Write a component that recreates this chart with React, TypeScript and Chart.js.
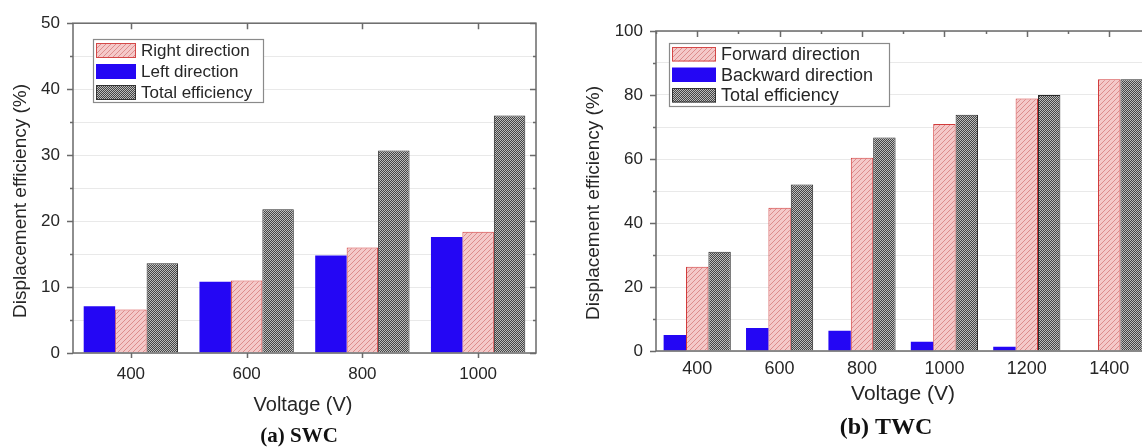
import React, { useEffect, useRef } from "react";
import { Chart, registerables } from "chart.js";

Chart.register(...registerables);

// ---------- Data ----------
const swcVoltages = ["400", "600", "800", "1000"];
const swcLeftDirection = [7.1, 10.8, 14.8, 17.6];
const swcRightDirection = [6.6, 11.0, 16.0, 18.4];
const swcTotalEfficiency = [13.6, 21.8, 30.7, 36.0];
const swcYTicks = [0, 10, 20, 30, 40, 50];

const twcVoltages = ["400", "600", "800", "1000", "1200", "1400"];
const twcBackwardDirection = [5.0, 7.2, 6.3, 2.9, 1.3, 0];
const twcForwardDirection = [26.3, 44.8, 60.4, 70.9, 78.9, 84.9];
const twcTotalEfficiency = [31.0, 52.0, 66.7, 73.8, 80.0, 84.9];
const twcYTicks = [0, 20, 40, 60, 80, 100];

const swcLabels = ["Left direction", "Right direction", "Total efficiency"];
const twcLabels = ["Backward direction", "Forward direction", "Total efficiency"];

const SANS = "'Liberation Sans', Arial, sans-serif";
const SERIF = "'Liberation Serif', 'Times New Roman', serif";
const BLUE = "#2406f4";
const AXIS = "#6a6a6a";
const TEXT = "#262626";

function makeHatch(ctx: CanvasRenderingContext2D) {
  const n = 5;
  const c = document.createElement("canvas");
  c.width = n;
  c.height = n;
  const x = c.getContext("2d")!;
  x.fillStyle = "#f4c9c9";
  x.fillRect(0, 0, n, n);
  x.fillStyle = "#dd8c8c";
  for (let i = 0; i < n; i++) x.fillRect(i, n - 1 - i, 1, 1);
  return ctx.createPattern(c, "repeat")!;
}

function makeDots(ctx: CanvasRenderingContext2D) {
  const c = document.createElement("canvas");
  c.width = 2;
  c.height = 2;
  const x = c.getContext("2d")!;
  x.fillStyle = "#454545";
  x.fillRect(0, 0, 2, 2);
  x.fillStyle = "#bcbcbc";
  x.fillRect(0, 0, 1, 1);
  x.fillRect(1, 1, 1, 1);
  return ctx.createPattern(c, "repeat")!;
}

type Decor = {
  yStep: number;
  yMinor: number;
  yMax: number;
  bottomTicks: boolean;
  topMinor: boolean;
  legend: { x: number; y: number; w: number; h: number; sw: number; rowH: number; font: number; items: { label: string; kind: string }[] };
  yTitle: { x: number; y: number; font: number };
  xTitle: { x: number; y: number; font: number };
  caption: { text: string; x: number; y: number; font: number };
};

function decorPlugin(d: Decor, pats: Record<string, any>) {
  return {
    id: "decor",
    afterDraw(chart: any) {
      const { ctx, chartArea: a, scales } = chart;
      ctx.save();
      // frame
      ctx.strokeStyle = AXIS;
      ctx.lineWidth = 1.5;
      ctx.strokeRect(a.left, a.top, a.right - a.left, a.bottom - a.top);
      // y ticks
      for (let v = 0; v <= d.yMax + 1e-6; v += d.yMinor) {
        const y = Math.round(scales.y.getPixelForValue(v)) + 0.5;
        const major = Math.abs(v / d.yStep - Math.round(v / d.yStep)) < 1e-6;
        const len = major ? 6 : 3;
        ctx.beginPath();
        ctx.moveTo(a.left - len, y);
        ctx.lineTo(a.left, y);
        ctx.moveTo(a.right, y);
        ctx.lineTo(a.right - len, y);
        ctx.stroke();
      }
      // x ticks
      const n = scales.x.ticks.length;
      const xs: number[] = [];
      for (let i = 0; i < n; i++) xs.push(scales.x.getPixelForTick(i));
      xs.forEach((x: number) => {
        const px = Math.round(x) + 0.5;
        ctx.beginPath();
        ctx.moveTo(px, a.top);
        ctx.lineTo(px, a.top + 6);
        if (d.bottomTicks) {
          ctx.moveTo(px, a.bottom);
          ctx.lineTo(px, a.bottom + 5);
        }
        ctx.stroke();
      });
      if (d.topMinor && n > 1) {
        const step = xs[1] - xs[0];
        for (let i = 0; i <= n; i++) {
          const px = Math.round(xs[0] - step / 2 + i * step) + 0.5;
          ctx.beginPath();
          ctx.moveTo(px, a.top);
          ctx.lineTo(px, a.top + 3);
          ctx.stroke();
        }
      }
      // legend
      const L = d.legend;
      ctx.fillStyle = "#ffffff";
      ctx.fillRect(L.x, L.y, L.w, L.h);
      ctx.strokeStyle = "#8a8a8a";
      ctx.lineWidth = 1.2;
      ctx.strokeRect(L.x + 0.5, L.y + 0.5, L.w, L.h);
      L.items.forEach((it, i) => {
        const top = L.y + 4 + i * L.rowH;
        const sh = L.rowH - 6;
        const sx = L.x + 3;
        ctx.fillStyle = pats[it.kind];
        ctx.fillRect(sx, top, L.sw, sh);
        if (it.kind !== "blue") {
          ctx.strokeStyle = it.kind === "hatch" ? "#d44848" : "#333333";
          ctx.lineWidth = 1;
          ctx.strokeRect(sx + 0.5, top + 0.5, L.sw - 1, sh - 1);
        }
        ctx.fillStyle = TEXT;
        ctx.font = `${L.font}px ${SANS}`;
        ctx.textBaseline = "middle";
        ctx.textAlign = "left";
        ctx.fillText(it.label, sx + L.sw + 5, top + sh / 2 + 1);
      });
      // titles
      ctx.fillStyle = TEXT;
      ctx.textAlign = "center";
      ctx.textBaseline = "middle";
      ctx.font = `${d.xTitle.font}px ${SANS}`;
      ctx.fillText("Voltage (V)", d.xTitle.x, d.xTitle.y);
      ctx.save();
      ctx.translate(d.yTitle.x, d.yTitle.y);
      ctx.rotate(-Math.PI / 2);
      ctx.font = `${d.yTitle.font}px ${SANS}`;
      ctx.fillText("Displacement efficiency (%)", 0, 0);
      ctx.restore();
      ctx.fillStyle = "#111";
      ctx.font = `bold ${d.caption.font}px ${SERIF}`;
      ctx.fillText(d.caption.text, d.caption.x, d.caption.y);
      ctx.restore();
    },
  };
}

function buildChart(
  canvas: HTMLCanvasElement,
  labels: string[],
  seriesNames: string[],
  blue: number[],
  pink: number[],
  gray: number[],
  yTicks: number[],
  geo: { padRight: number; padTop: number; yWidth: number; xHeight: number; tickFont: number; xPad: number },
  decor: Decor
) {
  const ctx = canvas.getContext("2d")!;
  const pats: Record<string, any> = { blue: BLUE, hatch: makeHatch(ctx), dots: makeDots(ctx) };
  const yMax = yTicks[yTicks.length - 1];
  const yStep = yTicks[1] - yTicks[0];
  return new Chart(canvas, {
    type: "bar",
    data: {
      labels,
      datasets: [
        { label: seriesNames[0], data: blue, backgroundColor: BLUE, borderWidth: 0 },
        { label: seriesNames[1], data: pink, backgroundColor: pats.hatch, borderColor: "#d23c3c", borderWidth: 1 },
        { label: seriesNames[2], data: gray, backgroundColor: pats.dots, borderColor: "#2a2a2a", borderWidth: 1 },
      ],
    },
    options: {
      animation: false,
      responsive: false,
      devicePixelRatio: 1,
      layout: { padding: { left: 0, right: geo.padRight, top: geo.padTop, bottom: 0 } },
      datasets: { bar: { categoryPercentage: 0.815, barPercentage: 1.0 } },
      plugins: { legend: { display: false }, tooltip: { enabled: false } },
      scales: {
        x: {
          offset: true,
          grid: { display: false, drawTicks: false },
          border: { display: false },
          ticks: { font: { family: SANS, size: geo.tickFont }, color: TEXT, padding: geo.xPad, maxRotation: 0, autoSkip: false },
          afterFit: (s: any) => {
            s.height = geo.xHeight;
          },
        },
        y: {
          min: 0,
          max: yMax,
          grid: { color: "#e9e9e9", lineWidth: 1, drawTicks: false },
          border: { display: false },
          ticks: {
            stepSize: yStep / 2,
            autoSkip: false,
            padding: 13,
            font: { family: SANS, size: 17 },
            color: TEXT,
            callback: (v: any) => (yTicks.includes(Number(v)) ? String(v) : ""),
          },
          afterFit: (s: any) => {
            s.width = geo.yWidth;
          },
        },
      },
    },
    plugins: [decorPlugin({ ...decor, yStep, yMinor: yStep / 2, yMax }, pats)],
  } as any);
}

export default function App() {
  const leftRef = useRef<HTMLCanvasElement>(null);
  const rightRef = useRef<HTMLCanvasElement>(null);

  useEffect(() => {
    const c1 = buildChart(
      leftRef.current!,
      swcVoltages,
      swcLabels,
      swcLeftDirection,
      swcRightDirection,
      swcTotalEfficiency,
      swcYTicks,
      { padRight: 24, padTop: 22, yWidth: 73, xHeight: 95, tickFont: 17, xPad: 11 },
      {
        yStep: 10,
        yMinor: 5,
        yMax: 50,
        bottomTicks: true,
        topMinor: false,
        legend: {
          x: 93, y: 39, w: 170, h: 63, sw: 40, rowH: 21, font: 17,
          items: [
            { label: swcLabels[1], kind: "hatch" },
            { label: swcLabels[0], kind: "blue" },
            { label: swcLabels[2], kind: "dots" },
          ],
        },
        yTitle: { x: 21, y: 201, font: 19 },
        xTitle: { x: 303, y: 405, font: 20 },
        caption: { text: "(a) SWC", x: 299, y: 437, font: 21 },
      }
    );
    const c2 = buildChart(
      rightRef.current!,
      twcVoltages,
      twcLabels,
      twcBackwardDirection,
      twcForwardDirection,
      twcTotalEfficiency,
      twcYTicks,
      { padRight: 19.6, padTop: 31, yWidth: 86, xHeight: 97, tickFont: 18, xPad: 7 },
      {
        yStep: 20,
        yMinor: 10,
        yMax: 100,
        bottomTicks: false,
        topMinor: true,
        legend: {
          x: 99, y: 43, w: 220, h: 63, sw: 44, rowH: 20.5, font: 18,
          items: [
            { label: twcLabels[1], kind: "hatch" },
            { label: twcLabels[0], kind: "blue" },
            { label: twcLabels[2], kind: "dots" },
          ],
        },
        yTitle: { x: 24, y: 203, font: 19 },
        xTitle: { x: 333, y: 394, font: 21 },
        caption: { text: "(b) TWC", x: 316, y: 428, font: 24 },
      }
    );
    return () => {
      c1.destroy();
      c2.destroy();
    };
  }, []);

  return (
    <div style={{ position: "fixed", left: 0, top: 0, width: 1142, height: 448, overflow: "hidden", background: "#fff" }}>
      <div style={{ position: "absolute", left: 0, top: 0 }}>
        <canvas ref={leftRef} width={560} height={448} style={{ display: "block" }} />
      </div>
      <div style={{ position: "absolute", left: 570, top: 0 }}>
        <canvas ref={rightRef} width={600} height={448} style={{ display: "block" }} />
      </div>
    </div>
  );
}
